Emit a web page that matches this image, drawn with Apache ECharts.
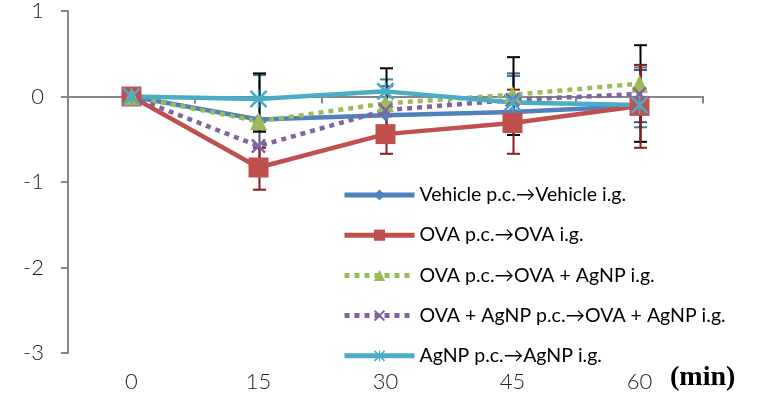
<!DOCTYPE html>
<html>
<head>
<meta charset="utf-8">
<script src="https://cdn.jsdelivr.net/npm/echarts@6/dist/echarts.min.js"></script>
<style>
html,body{margin:0;padding:0;background:#fff;}
#chart{width:758px;height:405px;}
</style>
</head>
<body>
<div id="chart"></div>
<script>
// ---- data ----
var categories = ['0', '15', '30', '45', '60'];
var yTicks = [-3, -2, -1, 0, 1];

var seriesNames = [
  'Vehicle p.c.\u2192Vehicle i.g.',
  'OVA p.c.\u2192OVA i.g.',
  'OVA p.c.\u2192OVA + AgNP i.g.',
  'OVA + AgNP p.c.\u2192OVA + AgNP i.g.',
  'AgNP p.c.\u2192AgNP i.g.'
];
var vehicle = [0, -0.27, -0.22, -0.18, -0.11];
var ova     = [0, -0.83, -0.44, -0.31, -0.11];
var ovaAg   = [0, -0.29, -0.08, 0.02, 0.15];
var ovaAgAg = [0, -0.58, -0.16, -0.04, 0.03];
var agnp    = [0, -0.03, 0.06, -0.07, -0.10];

// error bar bounds (lower / upper)
var errBlackLo  = [null, -0.41, -0.21, -0.45, -0.53];
var errBlackHi  = [null, 0.27, 0.33, 0.46, 0.60];
var errRedLo    = [null, -1.09, -0.67, -0.67, -0.60];
var errRedHi    = [null, -0.60, -0.22, 0.08, 0.37];
var errPurpleLo = [null, -0.75, -0.45, -0.35, -0.30];
var errPurpleHi = [null, -0.41, 0.12, 0.27, 0.31];
var errTealLo   = [null, -0.30, -0.12, -0.35, -0.36];
var errTealHi   = [null, 0.25, 0.20, 0.24, 0.34];

// ---- chart ----
var colors = ['#4F81BD', '#C0504D', '#9BBB59', '#8064A2', '#4BACC6'];
var xPath = 'path://M0,1.2 L1.2,0 L5,3.8 L8.8,0 L10,1.2 L6.2,5 L10,8.8 L8.8,10 L5,6.2 L1.2,10 L0,8.8 L3.8,5 Z';
var starPath = 'path://M0,1 L1,0 L5,4 L9,0 L10,1 L6,5 L10,9 L9,10 L5,6 L1,10 L0,9 L4,5 Z M4.5,0 L5.5,0 L5.5,10 L4.5,10 Z';

function errData(lo, hi) {
  var out = [];
  for (var i = 0; i < categories.length; i++) {
    if (lo[i] !== null && hi[i] !== null) out.push([i, lo[i], hi[i]]);
  }
  return out;
}
function errSeries(lo, hi, color) {
  return {
    type: 'custom',
    xAxisIndex: 0,
    yAxisIndex: 0,
    z: 1,
    silent: true,
    data: errData(lo, hi),
    renderItem: function (params, api) {
      var pLo = api.coord([api.value(0), api.value(1)]);
      var pHi = api.coord([api.value(0), api.value(2)]);
      var x = Math.round(pLo[0]) + 0.5;
      var w = 6.5;
      var st = { stroke: color, lineWidth: 2 };
      return {
        type: 'group',
        children: [
          { type: 'line', shape: { x1: x, y1: pLo[1], x2: x, y2: pHi[1] }, style: st },
          { type: 'line', shape: { x1: x - w, y1: pLo[1], x2: x + w, y2: pLo[1] }, style: st },
          { type: 'line', shape: { x1: x - w, y1: pHi[1], x2: x + w, y2: pHi[1] }, style: st }
        ]
      };
    }
  };
}
function lineSeries(name, data, color, symbol, size, dashed) {
  return {
    name: name,
    type: 'line',
    data: data,
    z: 2,
    symbol: symbol,
    symbolSize: size,
    showAllSymbol: true,
    lineStyle: { color: color, width: 4.5, type: dashed ? [5, 5] : 'solid', cap: 'butt' },
    itemStyle: { color: color, borderWidth: 0 },
    emphasis: { disabled: true },
    animation: false
  };
}

var chart = echarts.init(document.getElementById('chart'), null, { renderer: 'canvas' });
var axisFont = { fontFamily: 'Lato, "Open Sans", sans-serif', fontWeight: 300, fontSize: 22, color: '#222' };
var option = {
  animation: false,
  color: colors,
  grid: { left: 68, right: 55, top: 11, bottom: 52, containLabel: false },
  xAxis: [
    {
      type: 'category',
      data: categories,
      boundaryGap: true,
      axisLine: { onZero: true, lineStyle: { color: '#868686', width: 2 } },
      axisTick: { show: true, inside: false, length: 7, lineStyle: { color: '#868686', width: 2 } },
      axisLabel: { show: false }
    },
    {
      type: 'category',
      data: categories,
      position: 'bottom',
      boundaryGap: true,
      axisLine: { show: false, onZero: false },
      axisTick: { show: false },
      axisLabel: Object.assign({ margin: 18 }, axisFont)
    }
  ],
  yAxis: {
    type: 'value',
    min: yTicks[0],
    max: yTicks[yTicks.length - 1],
    interval: 1,
    splitLine: { show: false },
    axisLine: { show: true, lineStyle: { color: '#868686', width: 2 } },
    axisTick: { show: true, length: 7, lineStyle: { color: '#868686', width: 2 } },
    axisLabel: Object.assign({ margin: 24 }, axisFont)
  },
  legend: {
    orient: 'vertical',
    left: 337,
    top: 180,
    itemWidth: 70,
    itemHeight: 14,
    itemGap: 20.2,
    selectedMode: false,
    data: seriesNames,
    lineStyle: { width: 5 },
    textStyle: { fontFamily: 'Lato, sans-serif', fontSize: 19.5, lineHeight: 18, color: '#000' }
  },
  graphic: [
    {
      type: 'text',
      left: 670,
      top: 364,
      style: { text: '(min)', font: 'bold 28px "Liberation Serif", "DejaVu Serif", serif', fill: '#000' }
    }
  ],
  series: [
    errSeries(errTealLo, errTealHi, '#31859C'),
    errSeries(errPurpleLo, errPurpleHi, '#5F497A'),
    errSeries(errBlackLo, errBlackHi, '#000000'),
    errSeries(errRedLo, errRedHi, '#8B1A1A'),
    lineSeries(seriesNames[0], vehicle, colors[0], 'diamond', 12, false),
    lineSeries(seriesNames[1], ova, colors[1], 'rect', 20, false),
    lineSeries(seriesNames[2], ovaAg, colors[2], 'triangle', [17, 18], true),
    lineSeries(seriesNames[3], ovaAgAg, colors[3], xPath, 15, true),
    lineSeries(seriesNames[4], agnp, colors[4], starPath, 18, false)
  ]
};
chart.setOption(option);
</script>
</body>
</html>
